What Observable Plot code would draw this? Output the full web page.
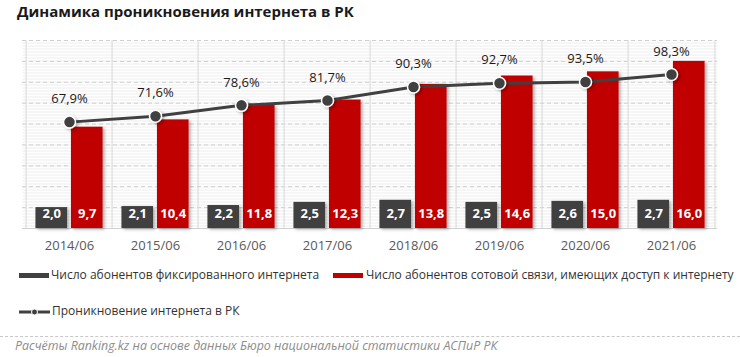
<!DOCTYPE html>
<html>
<head>
<meta charset="utf-8">
<script src="https://cdn.jsdelivr.net/npm/d3@7"></script>
<script src="https://cdn.jsdelivr.net/npm/@observablehq/plot@0.6"></script>
<style>
  html, body { margin: 0; padding: 0; background: #fff; }
  body { width: 740px; height: 357px; position: relative; overflow: hidden; font-family: "Open Sans", sans-serif; }
  .abs { position: absolute; white-space: nowrap; line-height: 1; }
  #title { left: 17px; top: 4px; font-size: 15px; font-weight: bold; color: #1a1a1a; }
  #chart { position: absolute; left: 0; top: 0; }
  .leg { font-size: 12px; color: #333; }
  .sw { position: absolute; width: 30px; height: 5px; }
  #sep { position: absolute; left: 0; top: 336px; width: 740px; border-top: 1px dashed #c8c8c8; }
  #caption { left: 15px; top: 340px; font-size: 12.4px; font-style: italic; color: #8c8c8c; }
</style>
</head>
<body>
<div id="chart"></div>
<div id="title" class="abs">Динамика проникновения интернета в РК</div>

<div class="sw" style="left:19px; top:273px; background:#404040"></div>
<div class="abs leg" style="left:51px; top:269px">Число абонентов фиксированного интернета</div>
<div class="sw" style="left:333px; top:273px; background:#c00000"></div>
<div class="abs leg" style="left:366px; top:269px">Число абонентов сотовой связи, имеющих доступ к интернету</div>

<svg class="abs" style="left:19px; top:306px" width="32" height="12">
  <line x1="0" x2="31" y1="6" y2="6" stroke="#404040" stroke-width="3"/>
  <circle cx="15.5" cy="6" r="3" fill="#404040" stroke="#fff" stroke-width="1"/>
</svg>
<div class="abs leg" style="left:52px; top:305px">Проникновение интернета в РК</div>

<div id="sep"></div>
<div id="caption" class="abs">Расчёты Ranking.kz на основе данных Бюро национальной статистики АСПиР РК</div>

<script>
// ---- data ----
const categories = ["2014/06", "2015/06", "2016/06", "2017/06", "2018/06", "2019/06", "2020/06", "2021/06"];
const fixedSubs  = [2.0, 2.1, 2.2, 2.5, 2.7, 2.5, 2.6, 2.7];
const mobileSubs = [9.7, 10.4, 11.8, 12.3, 13.8, 14.6, 15.0, 16.0];
const penetration = [67.9, 71.6, 78.6, 81.7, 90.3, 92.7, 93.5, 98.3];

// ---- scales / layout ----
const yMax = 18;      // primary axis max
const pctMax = 120;   // secondary axis max (%)
const width = 740, height = 260;
const marginLeft = 22, marginRight = 23, marginTop = 40, marginBottom = 32;
const band = (width - marginLeft - marginRight) / categories.length;
const barW = 32.5, gap = 3;
const outer = (band - 2 * barW - gap) / 2;

const rows = categories.map((c, i) => ({
  cat: c, fixed: fixedSubs[i], mobile: mobileSubs[i], pct: penetration[i]
}));
const comma = (v, d = 1) => v.toFixed(d).replace(".", ",");
const toPrimary = (p) => p * yMax / pctMax;

const chart = Plot.plot({
  width, height, marginLeft, marginRight, marginTop, marginBottom,
  style: { fontFamily: "Open Sans, sans-serif", background: "transparent" },
  x: { domain: categories, padding: 0, axis: null },
  y: { domain: [0, yMax], axis: null },
  marks: [
    Plot.frame({ fill: "url(#hstripes)", stroke: null }),
    Plot.gridY(d3.ticks(0, yMax, 9), { stroke: "#cfcfcf", strokeOpacity: 1, strokeDasharray: "4,3" }),
    Plot.ruleX(categories, { x: (d) => d, dx: -band / 2, stroke: "#d9d9d9", strokeOpacity: 1 }),
    Plot.ruleX(categories.slice(-1), { x: (d) => d, dx: band / 2, stroke: "#d9d9d9", strokeOpacity: 1 }),
    Plot.ruleY([0], { stroke: "#d0d0d0" }),
    Plot.barY(rows, { x: "cat", y: "fixed", fill: "#404040", insetLeft: outer, insetRight: band - outer - barW }),
    Plot.barY(rows, { x: "cat", y: "mobile", fill: "#c00000", insetLeft: outer + barW + gap, insetRight: outer }),
    Plot.text(rows, { x: "cat", y: 0, text: (d) => comma(d.fixed), dx: -(barW + gap) / 2, dy: -15,
      fill: "white", fontWeight: "bold", fontSize: 13 }),
    Plot.text(rows, { x: "cat", y: 0, text: (d) => comma(d.mobile), dx: (barW + gap) / 2, dy: -15,
      fill: "white", fontWeight: "bold", fontSize: 13 }),
    Plot.line(rows, { x: "cat", y: (d) => toPrimary(d.pct), stroke: "#404040", strokeWidth: 3 }),
    Plot.dot(rows, { x: "cat", y: (d) => toPrimary(d.pct), r: 6, fill: "#404040", stroke: "white", strokeWidth: 1.5 }),
    Plot.text(rows, { x: "cat", y: (d) => toPrimary(d.pct), text: (d) => comma(d.pct) + "%", dy: -23,
      fill: "#1a1a1a", fontSize: 13 }),
    Plot.axisX({ tickSize: 0, tickPadding: 12, fontSize: 13, color: "#595959", label: null })
  ]
});

// pattern of faint horizontal stripes in the plot area, and soft shadows
const svgNS = "http://www.w3.org/2000/svg";
const defs = document.createElementNS(svgNS, "defs");
defs.innerHTML = `<pattern id="hstripes" patternUnits="userSpaceOnUse" width="8" height="3">
  <rect width="8" height="3" fill="#ffffff"/><rect y="0" width="8" height="1" fill="#ececec"/></pattern>
  <filter id="shadow" x="-20%" y="-20%" width="150%" height="150%">
  <feDropShadow dx="2" dy="1.5" stdDeviation="1.5" flood-color="#000" flood-opacity="0.3"/></filter>`;
chart.insertBefore(defs, chart.firstChild);
chart.querySelectorAll('g[aria-label="bar"], g[aria-label="dot"]').forEach((g) => g.setAttribute("filter", "url(#shadow)"));

document.getElementById("chart").appendChild(chart);
</script>
</body>
</html>
